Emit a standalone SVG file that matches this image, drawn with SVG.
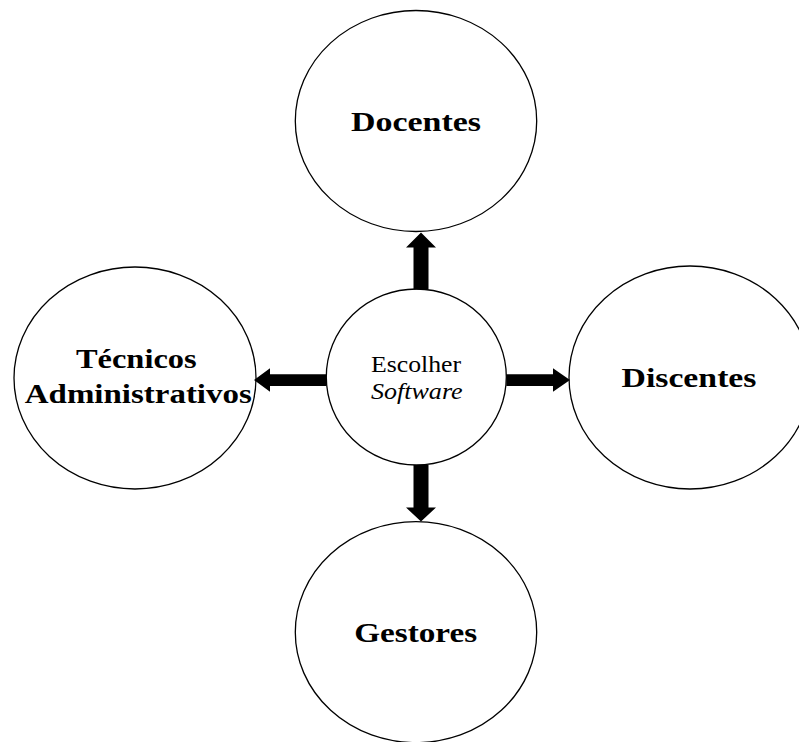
<svg xmlns="http://www.w3.org/2000/svg" width="799" height="742" viewBox="0 0 799 742">
<style>
.node{fill:#fff;stroke:#000;stroke-width:1.3}
.b{font-family:"Liberation Serif","Times New Roman",serif;font-weight:bold;font-size:27px;text-anchor:middle;fill:#000}
.r{font-family:"Liberation Serif","Times New Roman",serif;font-size:23px;text-anchor:middle;fill:#000}
.arr{fill:#000;stroke:none}
</style>
<rect width="799" height="742" fill="#fff"/>
<g id="docentes">
<ellipse class="node" cx="416" cy="121" rx="120.7" ry="110.5"/>
<text class="b" x="416" y="130.7" textLength="130" lengthAdjust="spacingAndGlyphs">Docentes</text>
</g>
<g id="escolher">
<ellipse class="node" cx="416.3" cy="377" rx="90" ry="88"/>
<text class="r" x="416" y="371.7" textLength="90" lengthAdjust="spacingAndGlyphs">Escolher</text>
<text class="r" x="416.8" y="399" font-style="italic" textLength="91.7" lengthAdjust="spacingAndGlyphs">Software</text>
</g>
<g id="tecnicos">
<ellipse class="node" cx="135" cy="378" rx="121" ry="111"/>
<text class="b" x="136.3" y="368.3" textLength="120.7" lengthAdjust="spacingAndGlyphs">Técnicos</text>
<text class="b" x="138.3" y="403.3" textLength="227" lengthAdjust="spacingAndGlyphs">Administrativos</text>
</g>
<g id="discentes">
<ellipse class="node" cx="690" cy="377.5" rx="121" ry="111.5"/>
<text class="b" x="689" y="386.7" textLength="135" lengthAdjust="spacingAndGlyphs">Discentes</text>
</g>
<g id="gestores">
<ellipse class="node" cx="416" cy="632.2" rx="120.7" ry="110.5"/>
<text class="b" x="415.7" y="641.7" textLength="123" lengthAdjust="spacingAndGlyphs">Gestores</text>
</g>
<g id="connectors">
<polygon class="arr" points="413.5,289.5 413.5,247.5 406,247.5 421,232.5 436,247.5 428.5,247.5 428.5,289.5"/>
<polygon class="arr" points="413.5,465 413.5,507.5 406,507.5 421,521.5 436,507.5 428.5,507.5 428.5,465"/>
<polygon class="arr" points="506.3,374.3 553,374.3 553,368.3 570,380 553,391.7 553,386 506.3,386"/>
<polygon class="arr" points="326.3,374.3 270,374.3 270,368.3 254,380 270,391.7 270,386 326.3,386"/>
</g>
</svg>
